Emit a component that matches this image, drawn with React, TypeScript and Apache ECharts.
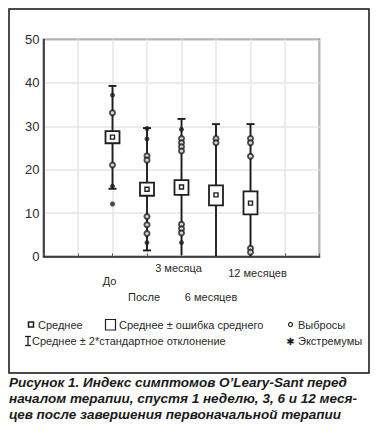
import React, { useEffect, useRef } from "react";
import * as echarts from "echarts";

const categories = ["До", "После", "3 месяца", "6 месяцев", "12 месяцев"];
const means = [27.5, 15.5, 16.0, 14.2, 12.3];
const seLow = [26.1, 14.0, 14.2, 11.8, 9.7];
const seHigh = [28.9, 17.0, 17.6, 16.4, 15.0];
const sdLow = [15.6, 1.4, 0.3, -2.1, -5.9];
const sdHigh = [39.3, 29.6, 31.7, 30.5, 30.5];
const outliers = [
  [33.1, 21.1],
  [23.2, 22.2, 9.2, 7.3, 5.3],
  [27.2, 26.2, 25.3, 24.3, 7.4, 6.4, 5.4],
  [27.2, 26.2],
  [27.2, 26.2, 23.1, 1.9, 1.0],
];
const extremes = [
  [37.2, 16.2, 12.1],
  [29.5, 27.1, 3.2],
  [29.3, 3.2],
  [],
  [],
];
const yTicks = { min: 0, max: 50, interval: 10 };
const legendLabels = [
  "Среднее",
  "Среднее ± ошибка среднего",
  "Выбросы",
  "Среднее ± 2*стандартное отклонение",
  "Экстремумы",
];
const caption =
  "Рисунок 1. Индекс симптомов O’Leary-Sant перед\nначалом терапии, спустя 1 неделю, 3, 6 и 12 меся-\nцев после завершения первоначальной терапии";

const OFFSET = 2; // first category sits on the third grid line
const FONT = "'Liberation Sans', Arial, sans-serif";
const INK = "#1e1e1e";

export default function App() {
  const ref = useRef<HTMLDivElement>(null);
  useEffect(() => {
    if (!ref.current) return;
    const chart = echarts.init(ref.current, null, { renderer: "svg" });
    const boxData = categories.map((_, i) => [
      i + OFFSET,
      means[i],
      seLow[i],
      seHigh[i],
      sdLow[i],
      sdHigh[i],
    ]);
    const outData = outliers.flatMap((vals, i) => vals.map((v) => [i + OFFSET, v]));
    const extData = extremes.flatMap((vals, i) => vals.map((v) => [i + OFFSET, v]));

    const labelRich: any = {
      c0: { padding: [26, 6, 0, 0] },
      c1: { padding: [58, 6, 0, 0] },
      c2: { padding: [0, 6, 0, 0] },
      c3: { padding: [58, 10, 0, 0] },
      c4: { padding: [9, 0, 0, 14] },
    };
    Object.keys(labelRich).forEach((k) => {
      labelRich[k].fontSize = 11;
      labelRich[k].fontFamily = FONT;
      labelRich[k].color = "#2a2a2a";
      labelRich[k].lineHeight = 13;
    });

    const legendY1 = 325;
    const legendY2 = 341;
    const legendText = (x: number, y: number, t: string) => ({
      type: "text",
      x,
      y,
      style: {
        text: t,
        fontSize: 11,
        fontFamily: FONT,
        fill: "#2a2a2a",
        verticalAlign: "middle",
        align: "left",
      },
    });

    chart.setOption({
      animation: false,
      backgroundColor: "#ffffff",
      title: {
        text: caption,
        left: 9,
        top: 374,
        textStyle: {
          fontFamily: FONT,
          fontSize: 13.5,
          fontWeight: "bold",
          fontStyle: "italic",
          color: "#1a1a1a",
          lineHeight: 16,
        },
        padding: 0,
      },
      grid: {
        left: 43.5,
        right: 57.5,
        top: 39.5,
        bottom: 176.5,
        show: true,
        borderColor: INK,
        borderWidth: 1.5,
        backgroundColor: "transparent",
      },
      xAxis: {
        type: "value",
        min: 0,
        max: 8,
        interval: 1,
        axisLine: { show: true, lineStyle: { color: INK, width: 1.5 } },
        axisTick: { show: true, inside: true, length: 3, lineStyle: { color: "#555" } },
        splitLine: { show: true, lineStyle: { color: "#e6e6e6", width: 1.5 } },
        axisLabel: {
          margin: 5,
          formatter: (v: number) => {
            const i = Math.round(v) - OFFSET;
            if (i < 0 || i >= categories.length) return "";
            return `{c${i}|${categories[i]}}`;
          },
          rich: labelRich,
        },
      },
      yAxis: {
        type: "value",
        min: yTicks.min,
        max: yTicks.max,
        interval: yTicks.interval,
        axisLine: { show: true, lineStyle: { color: INK, width: 1.5 } },
        axisTick: { show: false },
        splitLine: { show: true, lineStyle: { color: "#e6e6e6", width: 1.5 } },
        axisLabel: { fontSize: 13, fontFamily: FONT, color: "#2a2a2a", margin: 4 },
      },
      series: [
        {
          type: "custom",
          name: "box",
          data: boxData,
          z: 2,
          renderItem: (params: any, api: any) => {
            const x = api.value(0);
            const pMean = api.coord([x, api.value(1)]);
            const pSeL = api.coord([x, api.value(2)]);
            const pSeH = api.coord([x, api.value(3)]);
            const lowRaw = api.value(4);
            const pSdL = api.coord([x, Math.max(lowRaw, yTicks.min)]);
            const pSdH = api.coord([x, api.value(5)]);
            const cx = pMean[0];
            const stroke = { stroke: INK, lineWidth: 1.9, fill: null };
            const children: any[] = [
              {
                type: "line",
                shape: { x1: cx, y1: pSdH[1], x2: cx, y2: pSdL[1] },
                style: stroke,
              },
              {
                type: "line",
                shape: { x1: cx - 4, y1: pSdH[1], x2: cx + 4, y2: pSdH[1] },
                style: stroke,
              },
            ];
            if (lowRaw > yTicks.min + 0.5) {
              children.push({
                type: "line",
                shape: { x1: cx - 4, y1: pSdL[1], x2: cx + 4, y2: pSdL[1] },
                style: stroke,
              });
            }
            children.push({
              type: "rect",
              shape: { x: cx - 7, y: pSeH[1], width: 14, height: pSeL[1] - pSeH[1] },
              style: { stroke: INK, lineWidth: 1.8, fill: "#ffffff" },
            });
            children.push({
              type: "rect",
              shape: { x: cx - 2, y: pMean[1] - 2, width: 4, height: 4 },
              style: { stroke: INK, lineWidth: 1.4, fill: "#ffffff" },
            });
            return { type: "group", children };
          },
        },
        {
          type: "scatter",
          name: "Выбросы",
          data: outData,
          symbol: "emptyCircle",
          symbolSize: 5,
          z: 3,
          itemStyle: { color: INK, borderColor: INK, borderWidth: 1.2 },
        },
        {
          type: "scatter",
          name: "Экстремумы",
          data: extData,
          symbol: "circle",
          symbolSize: 5,
          z: 3,
          itemStyle: { color: INK },
        },
      ],
      graphic: [
        {
          type: "rect",
          shape: { x: 9, y: 9, width: 360, height: 364 },
          style: { stroke: "#111", lineWidth: 1.5, fill: null },
          silent: true,
        },
        {
          type: "rect",
          shape: { x: 28.5, y: legendY1 - 3, width: 5, height: 5 },
          style: { stroke: INK, lineWidth: 1.5, fill: "#fff" },
        },
        legendText(38, legendY1, legendLabels[0]),
        {
          type: "rect",
          shape: { x: 105.5, y: legendY1 - 5.5, width: 10, height: 10.5 },
          style: { stroke: INK, lineWidth: 1.2, fill: "#fff" },
        },
        legendText(119, legendY1, legendLabels[1]),
        {
          type: "circle",
          shape: { cx: 290.5, cy: legendY1 - 0.5, r: 2 },
          style: { stroke: INK, lineWidth: 1.2, fill: "#fff" },
        },
        legendText(298, legendY1, legendLabels[2]),
        {
          type: "line",
          shape: { x1: 28, y1: legendY2 - 4.5, x2: 28, y2: legendY2 + 4.5 },
          style: { stroke: INK, lineWidth: 1.3 },
        },
        {
          type: "line",
          shape: { x1: 25, y1: legendY2 - 4.5, x2: 31, y2: legendY2 - 4.5 },
          style: { stroke: INK, lineWidth: 1.3 },
        },
        {
          type: "line",
          shape: { x1: 25, y1: legendY2 + 4.5, x2: 31, y2: legendY2 + 4.5 },
          style: { stroke: INK, lineWidth: 1.3 },
        },
        legendText(32, legendY2, legendLabels[3]),
        {
          type: "text",
          x: 290.5,
          y: legendY2,
          style: {
            text: "✱",
            fontSize: 10,
            fontFamily: "'DejaVu Sans', sans-serif",
            fill: INK,
            align: "center",
            verticalAlign: "middle",
          },
        },
        legendText(298, legendY2, legendLabels[4]),
      ],
    });
    return () => chart.dispose();
  }, []);
  return (
    <div
      ref={ref}
      style={{ position: "fixed", left: 0, top: 0, width: 377, height: 433, background: "#fff" }}
    />
  );
}
